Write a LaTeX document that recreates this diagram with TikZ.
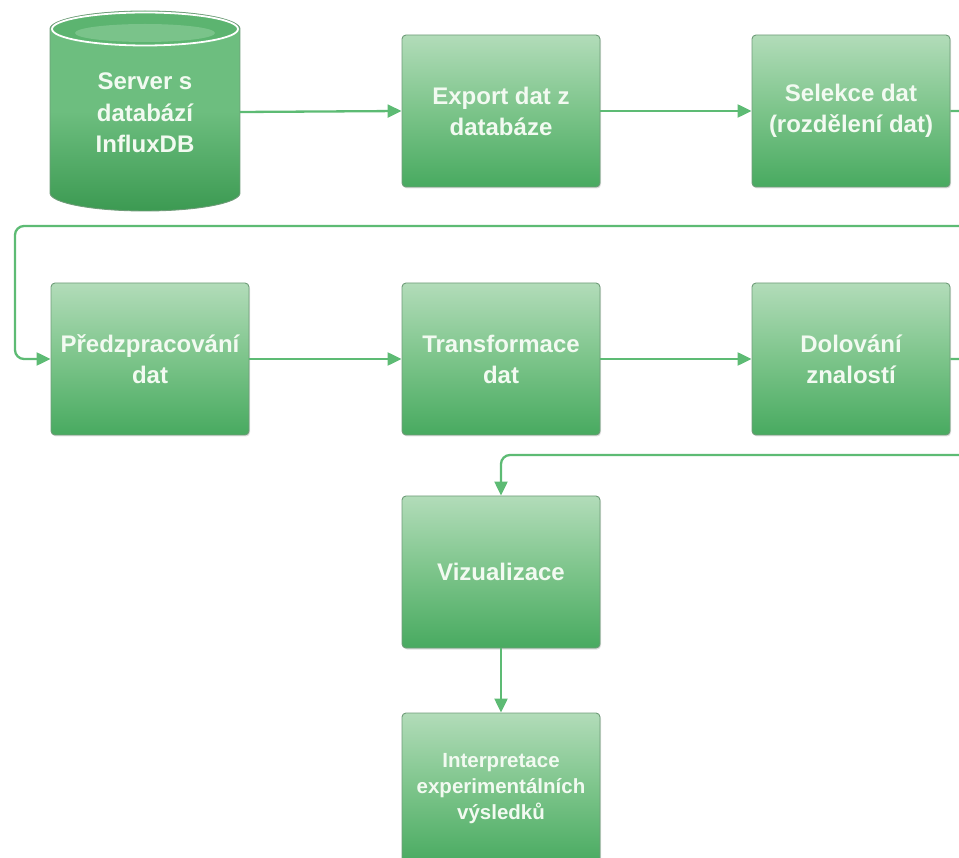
\documentclass[tikz,border=0pt]{standalone}
\usepackage{fontspec}
\setmainfont{Liberation Sans}
\usetikzlibrary{arrows.meta,shadows}
\definecolor{btop}{HTML}{B2DCB9}
\definecolor{bmid}{HTML}{7CC48A}
\definecolor{bbot}{HTML}{48AA60}
\definecolor{bborder}{HTML}{6F9C79}
\definecolor{conncol}{HTML}{5DBB74}
\definecolor{txt}{HTML}{F2FAF1}
\definecolor{cyltop}{HTML}{5CB470}
\definecolor{cbody}{HTML}{6DBE7F}
\definecolor{cbot}{HTML}{3C9A52}
\tikzset{
  procbox/.style={rectangle, minimum width=198pt, minimum height=152pt, rounded corners=4pt,
    draw=bborder, line width=0.9pt, top color=btop, bottom color=bbot, middle color=bmid,
    text=txt, align=center, font=\bfseries\fontsize{24}{31}\selectfont,
    drop shadow={opacity=0.25, shadow xshift=1pt, shadow yshift=-1.5pt}},
  conn/.style={draw=conncol, line width=2.3pt, -{Triangle[length=14pt,width=13pt]}},
}
\begin{document}
\begin{tikzpicture}[x=1pt,y=-1pt]
\useasboundingbox (0,0) rectangle (959,858);
% cylinder
\path[draw=bborder, line width=0.9pt, top color=cbody, bottom color=cbot, middle color=cbody]
  (50,29) -- (50,193) arc[start angle=180, end angle=0, x radius=95, y radius=18]
  -- (240,29) arc[start angle=0, end angle=-180, x radius=95, y radius=18] -- cycle;
\fill[cyltop] (145,29) ellipse[x radius=93pt, y radius=16.5pt];
\fill[cbody!70!white, opacity=0.5] (145,33) ellipse[x radius=70pt, y radius=9pt];
\draw[white, line width=1.8pt] (145,29) ellipse[x radius=93pt, y radius=16.5pt];
\node[text=txt, align=center, font=\bfseries\fontsize{24}{31.5}\selectfont] (srv) at (145,113) {Server s\\databází\\InfluxDB};
\coordinate (srvE) at (240,112);
% boxes
\node[procbox] (exp) at (501,111) {Export dat z\\databáze};
\node[procbox] (sel) at (851,111) {Selekce dat\\(rozdělení dat)};
\node[procbox] (pre) at (150,359) {Předzpracování\\dat};
\node[procbox] (tra) at (501,359) {Transformace\\dat};
\node[procbox] (dol) at (851,359) {Dolování\\znalostí};
\node[procbox] (viz) at (501,572) {Vizualizace};
\node[procbox, font=\bfseries\fontsize{20.5}{26}\selectfont] (int) at (501,789) {Interpretace\\experimentálních\\výsledků};
% connectors
\coordinate (r1) at (1000,226);
\coordinate (l1) at (15,226);
\coordinate (r2) at (1000,455);
\draw[conn] (srvE) -- (exp.west);
\draw[conn] (exp.east) -- (sel.west);
\draw[conn, rounded corners=9pt] (sel.east) -| (r1) -- (l1) |- (pre.west);
\draw[conn] (pre.east) -- (tra.west);
\draw[conn] (tra.east) -- (dol.west);
\draw[conn, rounded corners=9pt] (dol.east) -| (r2) -| (viz.north);
\draw[conn] (viz.south) -- (int.north);
\end{tikzpicture}
\end{document}
